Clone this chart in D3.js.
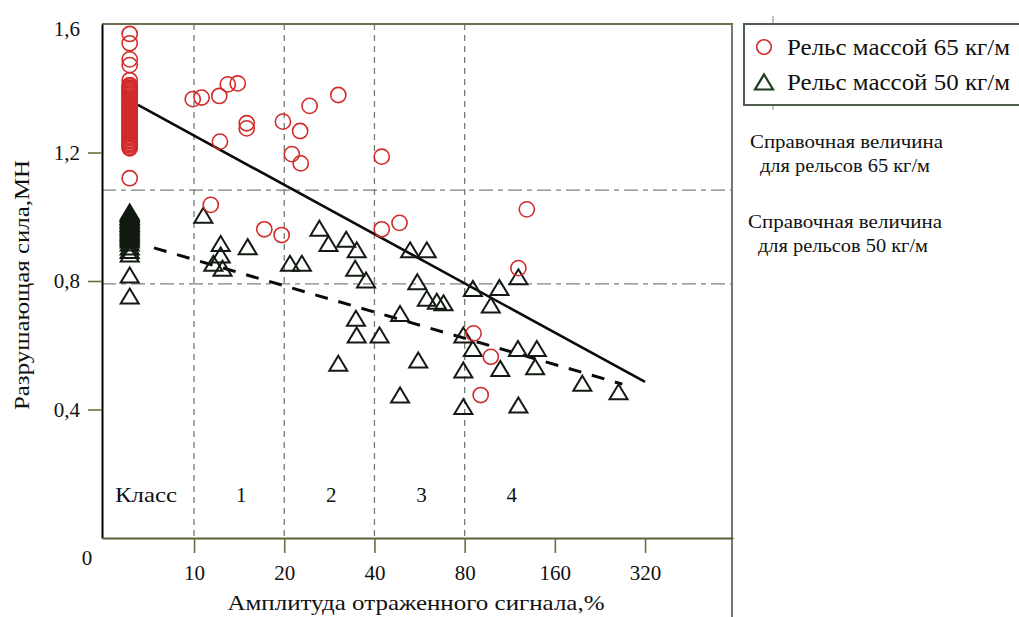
<!DOCTYPE html>
<html>
<head>
<meta charset="utf-8">
<script src="https://cdn.jsdelivr.net/npm/d3@7"></script>
<style>
  body { margin: 0; background: #fff; }
  svg { display: block; }
  text { font-family: "Liberation Serif", "Times New Roman", serif; fill: #111; }
</style>
</head>
<body>
<svg id="chart" width="1019" height="617"></svg>
<script>
// ---------- DATA ----------
// x: amplitude of reflected signal, % (log axis); the "0" column is drawn at ~6.1
const zeroColumnX = 6.1;
const xTicks = [10, 20, 40, 80, 160, 320];
const yTicks = [0.4, 0.8, 1.2, 1.6];
const gridX = [10, 20, 40, 80];
const refLevels = [1.083, 0.791];           // reference values 65 and 50 kg/m rails
const classBounds = [4.93, 10, 20, 40, 80, 160];
const classLabels = ["Класс", "1", "2", "3", "4"];

// Rail 65 kg/m : circles
const rail65Zero = [1.569, 1.540, 1.490, 1.472, 1.425,
  1.410, 1.406, 1.401, 1.397, 1.393, 1.388, 1.384, 1.380, 1.375, 1.371, 1.367, 1.362,
  1.358, 1.353, 1.349, 1.345, 1.340, 1.336, 1.332, 1.327, 1.323, 1.318, 1.314, 1.310,
  1.305, 1.301, 1.296, 1.292, 1.288, 1.283, 1.279, 1.274, 1.270, 1.266, 1.261, 1.257,
  1.252, 1.248, 1.244, 1.239, 1.235, 1.230, 1.226, 1.222, 1.217, 1.213, 1.120];
const rail65X = [9.9, 10.6, 12.14, 12.96, 13.99, 12.2, 14.99, 14.99, 19.8, 24.3, 22.6, 21.2, 22.7,
  30.3, 11.37, 42.3, 129, 42.3, 48.5, 120.9, 85.7, 97.8, 90.5, 17.16, 19.6];
const rail65Y = [1.366, 1.371, 1.376, 1.412, 1.415, 1.234, 1.291, 1.275, 1.296, 1.345, 1.267, 1.195, 1.166,
  1.379, 1.037, 1.187, 1.023, 0.961, 0.981, 0.840, 0.637, 0.564, 0.445, 0.961, 0.943];

// Rail 50 kg/m : triangles
const rail50Zero = [1.015, 1.010, 1.006, 1.001, 0.997, 0.992, 0.988, 0.983, 0.979, 0.974,
  0.970, 0.965, 0.961, 0.956, 0.952, 0.947, 0.943, 0.938, 0.934, 0.928, 0.918, 0.906,
  0.895, 0.884, 0.819, 0.753];
const rail50X = [10.74, 12.27, 12.27, 11.6, 12.45, 15.1, 20.9, 22.9, 26.2, 28.1, 30.3, 32.2, 34.9,
  34.5, 37.5, 34.7, 34.9, 41.6, 48.7, 52.6, 59.8, 55.6, 59.8, 64.6, 68.0, 56.0, 48.7, 85.2, 104.5,
  120.9, 97.8, 79.2, 85.2, 79.2, 105.2, 120.5, 139.3, 137.5, 197.6, 261, 79.2, 120.9];
const rail50Y = [1.005, 0.917, 0.881, 0.855, 0.840, 0.907, 0.855, 0.855, 0.964, 0.917, 0.544, 0.930, 0.897,
  0.840, 0.803, 0.684, 0.632, 0.632, 0.699, 0.897, 0.897, 0.798, 0.746, 0.737, 0.732, 0.554, 0.445, 0.777, 0.780,
  0.813, 0.725, 0.632, 0.590, 0.523, 0.528, 0.590, 0.590, 0.533, 0.482, 0.455, 0.409, 0.414];

// Trend lines (end points)
const trend65X = [6.50, 320];
const trend65Y = [1.348, 0.486];
const trend50X = [7.35, 268.7];
const trend50Y = [0.903, 0.479];

const legendLabels = ["Рельс массой 65 кг/м", "Рельс массой 50 кг/м"];
const refText65 = ["Справочная величина", "для рельсов 65 кг/м"];
const refText50 = ["Справочная величина", "для рельсов 50 кг/м"];
const xTitle = "Амплитуда отраженного сигнала,%";
const yTitle = "Разрушающая сила,МН";

// ---------- DRAWING ----------
const svg = d3.select("#chart");
const pLeft = 102, pRight = 733, pTop = 24, pBottom = 538;

const x = d3.scaleLog().domain([4.93, 629]).range([pLeft, pRight]);
const y = d3.scaleLinear().domain([0, 1.6]).range([pBottom, pTop]);

const red = "#d22b2b";
const tri = "#121a12";

// grid verticals
svg.append("g").selectAll("line").data(gridX).join("line")
  .attr("x1", d => x(d)).attr("x2", d => x(d))
  .attr("y1", pTop).attr("y2", pBottom)
  .attr("stroke", "#6f7d6f").attr("stroke-width", 1.3)
  .attr("stroke-dasharray", "6,5");

// reference horizontal lines
svg.append("g").selectAll("line").data(refLevels).join("line")
  .attr("x1", pLeft).attr("x2", pRight)
  .attr("y1", d => y(d)).attr("y2", d => y(d))
  .attr("stroke", "#7d817d").attr("stroke-width", 1.3)
  .attr("stroke-dasharray", "14,5,5,5");

// frame (top and right)
svg.append("line").attr("x1", pLeft).attr("x2", pRight).attr("y1", pTop).attr("y2", pTop)
  .attr("stroke", "#6e6e50").attr("stroke-width", 2.2);
svg.append("line").attr("x1", pRight - 1).attr("x2", pRight - 1).attr("y1", pTop).attr("y2", 617)
  .attr("stroke", "#77776a").attr("stroke-width", 2);

// axes
const fmt = d => d.toFixed(1).replace(".", ",");
const yAxis = svg.append("g").attr("transform", `translate(${pLeft},0)`)
  .call(d3.axisLeft(y).tickValues(yTicks).tickFormat(fmt).tickSize(14).tickSizeOuter(0).tickPadding(8));
yAxis.select(".domain").attr("stroke", "#000").attr("stroke-width", 2);
yAxis.selectAll(".tick line").attr("stroke", "#6e6e40").attr("stroke-width", 1.6)
  .filter(d => d === 1.6).remove();
yAxis.selectAll(".tick text").attr("font-size", 21).attr("font-family", "Liberation Serif")
  .attr("fill", "#222").attr("dy", d => d === 1.6 ? "0.55em" : "0.32em");

const xAxis = svg.append("g").attr("transform", `translate(0,${pBottom})`)
  .call(d3.axisBottom(x).tickValues(xTicks).tickFormat(d3.format("d")).tickSize(15).tickSizeOuter(0));
xAxis.select(".domain").attr("stroke", "#5e5e3c").attr("stroke-width", 2.2);
xAxis.selectAll(".tick line").attr("stroke", "#6e6e40").attr("stroke-width", 1.6);
xAxis.selectAll(".tick text").attr("font-size", 21).attr("font-family", "Liberation Serif")
  .attr("fill", "#222").attr("y", 35).attr("dy", "0.35em");

// zero label at origin
svg.append("text").attr("x", pLeft - 15).attr("y", y(0) + 20).attr("dy", "0.35em")
  .attr("text-anchor", "middle").attr("font-size", 21).attr("fill", "#222").text("0");

// class labels
svg.append("g").selectAll("text").data(classLabels).join("text")
  .attr("x", (d, i) => x(Math.sqrt(classBounds[i] * classBounds[i + 1])) + (i === 0 ? -2 : 2))
  .attr("y", pBottom - 43).attr("dy", "0.35em")
  .attr("text-anchor", "middle").attr("font-size", 21)
  .attr("textLength", (d, i) => i === 0 ? 62 : null)
  .attr("lengthAdjust", "spacingAndGlyphs")
  .text(d => d);

// trend lines
const line = d3.line().x(d => x(d[0])).y(d => y(d[1]));
svg.append("path").datum(d3.zip(trend65X, trend65Y)).attr("d", line)
  .attr("fill", "none").attr("stroke", "#0a0a0a").attr("stroke-width", 2.6);
svg.append("path").datum(d3.zip(trend50X, trend50Y)).attr("d", line)
  .attr("fill", "none").attr("stroke", "#0a0a0a").attr("stroke-width", 3)
  .attr("stroke-dasharray", "13,11");

// triangle symbol path
const triPath = "M0,-7.5L9,7.5L-9,7.5Z";

// rail 50 points
const pts50 = rail50Zero.map(v => [zeroColumnX, v]).concat(d3.zip(rail50X, rail50Y));
svg.append("g").selectAll("path").data(pts50).join("path")
  .attr("d", triPath)
  .attr("transform", d => `translate(${x(d[0])},${y(d[1])})`)
  .attr("fill", "none").attr("stroke", tri).attr("stroke-width", 2);

// rail 65 points
const pts65 = rail65Zero.map(v => [zeroColumnX, v]).concat(d3.zip(rail65X, rail65Y));
svg.append("g").selectAll("circle").data(pts65).join("circle")
  .attr("cx", d => x(d[0])).attr("cy", d => y(d[1])).attr("r", 7.6)
  .attr("fill", "none").attr("stroke", red).attr("stroke-width", 1.6);

// legend
const lg = svg.append("g");
lg.append("line").attr("x1", 773).attr("x2", 773).attr("y1", 16).attr("y2", 24).attr("stroke", "#888").attr("stroke-width", 1);
lg.append("line").attr("x1", 773).attr("x2", 773).attr("y1", 105).attr("y2", 110).attr("stroke", "#888").attr("stroke-width", 1);
lg.append("rect").attr("x", 744).attr("y", 24).attr("width", 290).attr("height", 81)
  .attr("fill", "#fff").attr("stroke", "#4f5f4f").attr("stroke-width", 2);
lg.append("circle").attr("cx", 764).attr("cy", 47).attr("r", 7.3)
  .attr("fill", "none").attr("stroke", red).attr("stroke-width", 1.6);
lg.append("path").attr("d", triPath).attr("transform", "translate(764,82)")
  .attr("fill", "none").attr("stroke", "#1d3d1d").attr("stroke-width", 2.2);
lg.selectAll("text.lt").data(legendLabels).join("text").attr("class", "lt")
  .attr("x", 787).attr("y", (d, i) => 55 + i * 35)
  .attr("font-size", 24).attr("textLength", 223).attr("lengthAdjust", "spacingAndGlyphs")
  .text(d => d);

// reference annotations
const ann = [
  {t: refText65[0], x: 750, y: 148, w: 193},
  {t: refText65[1], x: 760, y: 172, w: 170},
  {t: refText50[0], x: 748, y: 228, w: 194},
  {t: refText50[1], x: 758, y: 252, w: 170}
];
svg.append("g").selectAll("text").data(ann).join("text")
  .attr("x", d => d.x).attr("y", d => d.y)
  .attr("font-size", 18).attr("textLength", d => d.w).attr("lengthAdjust", "spacingAndGlyphs")
  .text(d => d.t);

// axis titles
svg.append("text").attr("x", 416).attr("y", 610)
  .attr("text-anchor", "middle").attr("font-size", 21)
  .attr("textLength", 377).attr("lengthAdjust", "spacingAndGlyphs").text(xTitle);
svg.append("text").attr("transform", "translate(29,285) rotate(-90)")
  .attr("text-anchor", "middle").attr("font-size", 22)
  .attr("textLength", 250).attr("lengthAdjust", "spacingAndGlyphs").text(yTitle);
</script>
</body>
</html>
